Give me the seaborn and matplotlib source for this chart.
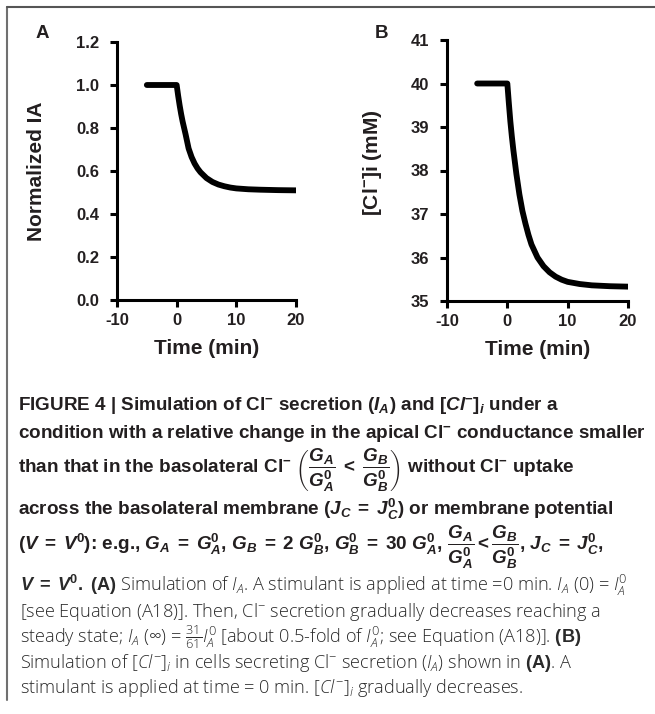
import matplotlib
matplotlib.use("Agg")
import matplotlib.pyplot as plt
import seaborn as sns
from matplotlib.lines import Line2D

# ---------------- data ----------------
time_a = [-5, 0, 0.25, 0.5, 0.75, 1.0, 1.5, 2.0, 2.5, 3.0, 3.5, 4.0, 5.0, 6.0, 7.0,
          8.0, 9.0, 10.0, 12.0, 14.0, 17.0, 20.0]
ia_norm = [1.0, 1.0, 0.95, 0.905, 0.865, 0.83, 0.77, 0.705, 0.665, 0.635, 0.612, 0.594,
           0.567, 0.549, 0.537, 0.529, 0.523, 0.519, 0.515, 0.513, 0.511, 0.51]

time_b = [-5, 0, 0.25, 0.5, 0.75, 1.0, 1.5, 2.0, 2.5, 3.0, 3.5, 4.0, 5.0, 6.0, 7.0,
          8.0, 9.0, 10.0, 12.0, 14.0, 17.0, 20.0]
cl_conc = [40.0, 40.0, 39.55, 39.13, 38.78, 38.47, 37.92, 37.45, 37.07, 36.78, 36.52,
           36.30, 36.00, 35.80, 35.66, 35.56, 35.49, 35.44, 35.39, 35.36, 35.34, 35.33]

x_ticks = [-10, 0, 10, 20]
ya_ticks = [0.0, 0.2, 0.4, 0.6, 0.8, 1.0, 1.2]
yb_ticks = [35, 36, 37, 38, 39, 40, 41]

panel_labels = ["A", "B"]
xlabel = "Time (min)"
ylabel_a = "Normalized IA"
ylabel_b = r"[Cl$^{\mathbf{-}}$]i (mM)"

# ---------------- style ----------------
sns.set_theme(style="ticks")
LIGHT = "Open Sans"
plt.rcParams.update({
    "font.family": ["Liberation Sans", "DejaVu Sans"],
    "mathtext.fontset": "custom",
    "mathtext.rm": LIGHT + ":light",
    "mathtext.it": LIGHT + ":light:italic",
    "mathtext.bf": "Liberation Sans:bold",
    "mathtext.bfit": "Liberation Sans:bold:italic",
    "mathtext.sf": LIGHT + ":light",
})

W, H = 655, 714
fig = plt.figure(figsize=(W / 100, H / 100), dpi=100)

def fx(px):
    return px / W

def fy(py):
    return 1 - py / H

TXT = "#231f20"

def style_axis(ax, yticks, ylabels, ylim, ylabel, ylabel_pos):
    ax.set_xlim(-10, 20)
    ax.set_ylim(*ylim)
    ax.set_xticks(x_ticks)
    ax.set_xticklabels([str(v) for v in x_ticks], weight="bold", size=12)
    ax.set_yticks(yticks)
    ax.set_yticklabels(ylabels, weight="bold", size=12)
    for s in ["top", "right"]:
        ax.spines[s].set_visible(False)
    for s in ["left", "bottom"]:
        ax.spines[s].set_linewidth(2.2)
        ax.spines[s].set_color("black")
    ax.tick_params(axis="both", direction="out", length=5, width=2.2, color="black",
                   labelcolor=TXT)
    ax.tick_params(axis="y", pad=8)
    ax.tick_params(axis="x", pad=4)
    ax.set_xlabel(xlabel, weight="bold", size=15, color=TXT, labelpad=8)
    ax.set_ylabel(ylabel, weight="bold", size=15, color=TXT)
    ax.yaxis.set_label_coords(*ylabel_pos)
    for ln in ax.lines:
        ln.set_solid_capstyle("round")
        ln.set_solid_joinstyle("round")
    ax.set_facecolor("white")

# Panel A
axA = fig.add_axes([fx(117), fy(300), fx(296 - 117), (300 - 42) / H])
sns.lineplot(x=time_a, y=ia_norm, ax=axA, color="black", linewidth=4.2, sort=False)
style_axis(axA, ya_ticks, [f"{v:.1f}" for v in ya_ticks], (0, 1.2), ylabel_a, (-0.395, 0.5))

# Panel B
axB = fig.add_axes([fx(447), fy(301), fx(628 - 447), (301 - 40) / H])
sns.lineplot(x=time_b, y=cl_conc, ax=axB, color="black", linewidth=4.2, sort=False)
style_axis(axB, yb_ticks, [str(v) for v in yb_ticks], (35, 41), ylabel_b, (-0.35, 0.53))

fig.text(fx(42), fy(33), panel_labels[0], weight="bold", size=13.5, ha="center", va="center", color=TXT)
fig.text(fx(381), fy(33), panel_labels[1], weight="bold", size=13.5, ha="center", va="center", color=TXT)

# frame lines
fig.add_artist(Line2D([fx(7), fx(7)], [fy(7), fy(700)], color="#707070", lw=1.5))
fig.add_artist(Line2D([fx(7), 1.0], [fy(7), fy(7)], color="#555555", lw=1.5))

# ---------------- caption ----------------
m = r"^{\mathbf{-}}"
EQ = r"\;\mathbf{=}\;"
GA = r"\mathbfit{G}_{\mathbfit{A}}"
GA0 = r"\mathbfit{G}^{\mathbf{0}}_{\mathbfit{A}}"
GB = r"\mathbfit{G}_{\mathbfit{B}}"
GB0 = r"\mathbfit{G}^{\mathbf{0}}_{\mathbfit{B}}"
JC = r"\mathbfit{J}_{\mathbfit{C}}"
JC0 = r"\mathbfit{J}^{\mathbf{0}}_{\mathbfit{C}}"
V = r"\mathbfit{V}"
V0 = r"\mathbfit{V}^{\mathbf{0}}"
frac_cmp = r"\dfrac{" + GA + "}{" + GA0 + r"}\;\mathbf{<}\;\dfrac{" + GB + "}{" + GB0 + "}"
frac_cmp2 = r"\dfrac{" + GA + "}{" + GA0 + r"}\mathbf{<}\dfrac{" + GB + "}{" + GB0 + "}"

bold_lines = [
    (410, r"FIGURE 4 | Simulation of Cl$" + m + r"$ secretion ($\mathbfit{I}_{\mathbfit{A}}$) and [$\mathbfit{Cl}" + m + r"$]$_{\mathbfit{i}}$ under a"),
    (438, r"condition with a relative change in the apical Cl$" + m + r"$ conductance smaller"),
    (474, r"than that in the basolateral Cl$" + m + r"$ $\left(" + frac_cmp + r"\right)$ without Cl$" + m + r"$ uptake"),
    (515, r"across the basolateral membrane ($" + JC + EQ + JC0 + r"$) or membrane potential"),
    (551, r"($" + V + EQ + V0 + r"$): e.g., $" + GA + EQ + GA0 + r"$, $"
          + GB + EQ + r"\mathbf{2}\ " + GB0 + r"$, $" + GB0 + EQ + r"\mathbf{30}\ " + GA0
          + r"$, $" + frac_cmp2 + r"$, $" + JC + EQ + JC0 + r"$,"),
]
for yb, s in bold_lines:
    fig.text(fx(18), fy(yb), s, weight="bold", size=13.6, ha="left",
             va="baseline", color=TXT)

light_lines = [
    (591, r"$" + V + EQ + V0 + r"\mathbf{.\ (A)}$ Simulation of $I_A$. A stimulant is applied at time =0 min. $I_A$ (0) = $I_A^0$"),
    (617, r"[see Equation (A18)]. Then, Cl$^{-}$ secretion gradually decreases reaching a"),
    (643, r"steady state; $I_A$ ($\infty$) = $\frac{31}{61}I_A^0$ [about 0.5-fold of $I_A^0$; see Equation (A18)]. $\mathbf{(B)}$"),
    (668, r"Simulation of [$Cl^{-}$]$_i$ in cells secreting Cl$^{-}$ secretion ($I_A$) shown in $\mathbf{(A)}$. A"),
    (693, r"stimulant is applied at time = 0 min. [$Cl^{-}$]$_i$ gradually decreases."),
]
for yb, s in light_lines:
    fig.text(fx(20), fy(yb), s, family=[LIGHT, "DejaVu Sans"], weight="light", size=13.1,
             ha="left", va="baseline", color="#2a2a2a")

fig.savefig("out.png", dpi=100, facecolor="white")
